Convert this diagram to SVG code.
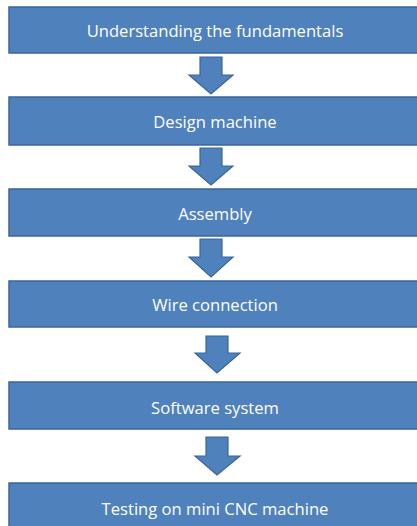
<svg xmlns="http://www.w3.org/2000/svg" width="417" height="526" viewBox="0 0 417 526">
<defs>
<style>
.box{fill:#4f81bd;stroke:#3b6696;stroke-width:1.5}
.arr{fill:#4f81bd;stroke:#3b6696;stroke-width:1.2;stroke-linejoin:miter}
.lbl{fill:#ffffff;font-family:"Open Sans","Liberation Sans",sans-serif;font-size:16.6px;text-anchor:middle;dominant-baseline:central}
</style>
</defs>
<rect width="417" height="526" fill="#ffffff"/>
<g id="connectors">
<path class="arr" d="M200,57 H222 V75 H233 L211,94 L189,75 H200 Z"/>
<path class="arr" d="M200,148 H222 V166 H233 L211,185 L189,166 H200 Z"/>
<path class="arr" d="M200,239 H222 V257 H233 L211,277 L189,257 H200 Z"/>
<path class="arr" d="M206,336 H228 V353 H240 L217,373 L195,353 H206 Z"/>
<path class="arr" d="M206,437 H228 V456 H240 L217,475 L195,456 H206 Z"/>
</g>
<g id="n1"><rect class="box" x="9" y="7" width="412" height="46"/><text class="lbl" x="215" y="30">Understanding the fundamentals</text></g>
<g id="n2"><rect class="box" x="9" y="97" width="412" height="48"/><text class="lbl" x="215" y="121">Design machine</text></g>
<g id="n3"><rect class="box" x="9" y="189" width="412" height="47"/><text class="lbl" x="215" y="213">Assembly</text></g>
<g id="n4"><rect class="box" x="9" y="281" width="412" height="46"/><text class="lbl" x="215" y="304">Wire connection</text></g>
<g id="n5"><rect class="box" x="9" y="382" width="412" height="47"/><text class="lbl" x="215" y="407">Software system</text></g>
<g id="n6"><rect class="box" x="9" y="483" width="412" height="50"/><text class="lbl" x="215" y="508">Testing on mini CNC machine</text></g>
</svg>
